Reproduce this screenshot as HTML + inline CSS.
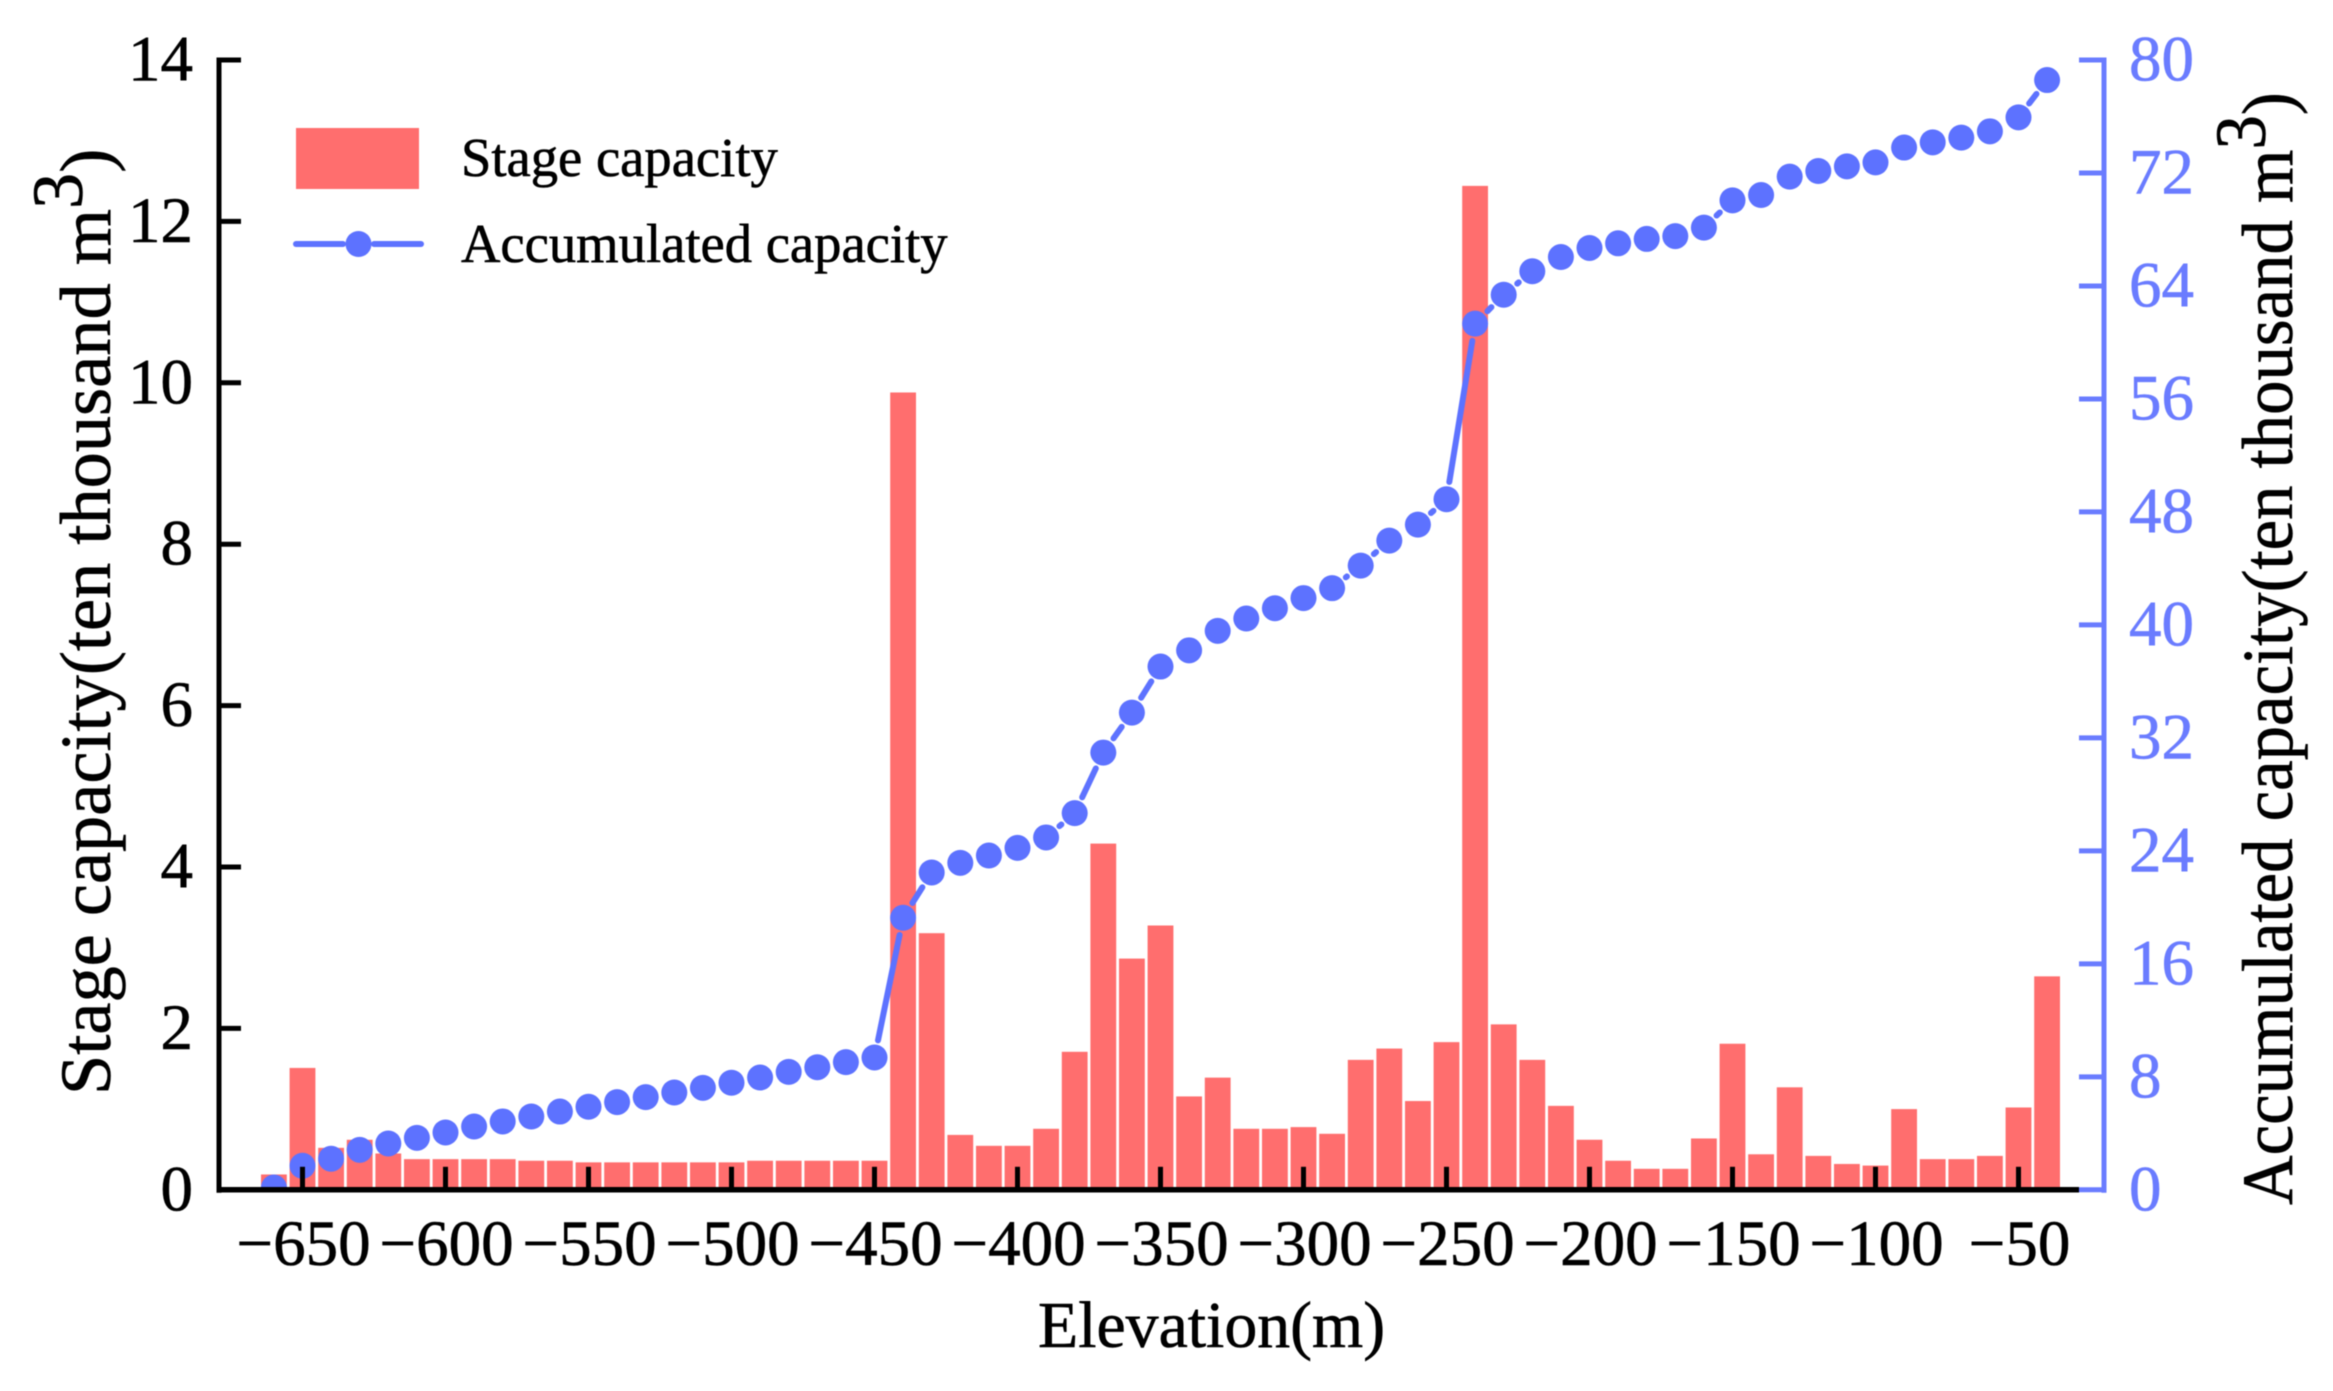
<!DOCTYPE html>
<html lang="en">
<head>
<meta charset="utf-8">
<title>Stage and accumulated capacity by elevation</title>
<style>
html,body{margin:0;padding:0;background:#fff;}
svg{display:block;font-family:"Liberation Serif",serif;filter:blur(0.6px);}
text{stroke:currentColor;stroke-width:0.6;}
</style>
</head>
<body>
<svg id="chart" xmlns="http://www.w3.org/2000/svg" width="2333" height="1391" viewBox="0 0 2333 1391">
  <defs>
    <clipPath id="plot-clip"><rect x="150" y="40" width="1960" height="1150"/></clipPath>
  </defs>
  <rect x="0" y="0" width="2333" height="1391" fill="#ffffff"/>
  <g id="bars"></g>
  <g id="line" clip-path="url(#plot-clip)"></g>
  <g id="axes"></g>

  <g color="#000">
    <rect x="296" y="128" width="123" height="61" fill="#ff6e6e"/>
    <text x="461" y="176" font-size="54.6" fill="#000">Stage capacity</text>
    <line x1="296" y1="244" x2="343" y2="244" stroke="#5d72ff" stroke-width="6" stroke-linecap="round"/>
    <line x1="374" y1="244" x2="421" y2="244" stroke="#5d72ff" stroke-width="6" stroke-linecap="round"/>
    <circle cx="358.5" cy="244" r="13" fill="#5d72ff"/>
    <text x="461" y="262" font-size="54.6" fill="#000">Accumulated capacity</text>
  </g>

  <text x="1038" y="1347" font-size="65.8" fill="#000" color="#000">Elevation(m)</text>
  <text transform="translate(110,1095) rotate(-90) scale(1.005,1)" font-size="72" fill="#000" color="#000">Stage capacity(ten thousand m<tspan dy="-28">3</tspan><tspan dy="28">)</tspan></text>
  <text transform="translate(2292,1205) rotate(-90) scale(0.955,1)" font-size="72" fill="#000" color="#000">Accumulated capacity(ten thousand m<tspan dy="-27">3</tspan><tspan dy="27">)</tspan></text>
</svg>
<script>
const elevations = [-660,-650,-640,-630,-620,-610,-600,-590,-580,-570,-560,-550,-540,-530,-520,-510,-500,-490,-480,-470,-460,-450,-440,-430,-420,-410,-400,-390,-380,-370,-360,-350,-340,-330,-320,-310,-300,-290,-280,-270,-260,-250,-240,-230,-220,-210,-200,-190,-180,-170,-160,-150,-140,-130,-120,-110,-100,-90,-80,-70,-60,-50,-40];
const stageCapacity = [0.19,1.51,0.52,0.62,0.45,0.38,0.38,0.38,0.38,0.36,0.36,0.34,0.34,0.34,0.34,0.34,0.34,0.36,0.36,0.36,0.36,0.36,9.88,3.18,0.68,0.545,0.545,0.756,1.71,4.29,2.865,3.275,1.157,1.39,0.756,0.756,0.777,0.694,1.61,1.75,1.10,1.83,12.44,2.05,1.61,1.04,0.62,0.36,0.26,0.26,0.636,1.81,0.44,1.27,0.42,0.32,0.30,1.0,0.38,0.38,0.42,1.02,2.645];
const accumulatedCapacity = [0.16,1.7,2.2,2.83,3.28,3.68,4.06,4.48,4.84,5.19,5.54,5.88,6.21,6.56,6.89,7.22,7.58,7.95,8.35,8.68,9.04,9.37,19.26,22.47,23.15,23.67,24.21,24.95,26.67,30.96,33.79,37.05,38.2,39.58,40.45,41.18,41.9,42.6,44.2,45.97,47.1,48.9,61.33,63.38,65.04,66.05,66.69,67.02,67.33,67.53,68.13,70.06,70.44,71.74,72.14,72.47,72.75,73.8,74.17,74.5,74.95,75.94,78.58];
const xTicks = [-650,-600,-550,-500,-450,-400,-350,-300,-250,-200,-150,-100,-50];
const leftTicks = [0,2,4,6,8,10,12,14];
const rightTicks = [0,8,16,24,32,40,48,56,64,72,80];

const SVG_NS = 'http://www.w3.org/2000/svg';
const X0 = 302.5, X_PER_M = 2.86;
const Y0 = 1189.8, Y_TOP = 60;
const LEFT_MAX = 14, RIGHT_MAX = 80;
const xScale = e => X0 + (e + 650) * X_PER_M;
const yLeft = v => Y0 - v / LEFT_MAX * (Y0 - Y_TOP);
const yRight = v => Y0 - v / RIGHT_MAX * (Y0 - Y_TOP);

function make(tag, attrs, parent) {
  const node = document.createElementNS(SVG_NS, tag);
  for (const k in attrs) node.setAttribute(k, attrs[k]);
  parent.appendChild(node);
  return node;
}

const barsG = document.getElementById('bars');
const lineG = document.getElementById('line');
const axesG = document.getElementById('axes');
const BAR_W = 25.8, BLUE = '#5d72ff', AXIS_BLUE = '#6a7cff';

elevations.forEach((e, i) => {
  const top = yLeft(stageCapacity[i]);
  const el = make('rect', {x: xScale(e) - BAR_W / 2, y: top, width: BAR_W, height: Y0 - top, fill: '#ff6e6e'}, barsG);
  
  
});

const GAP = 17.5;
for (let i = 0; i < elevations.length - 1; i++) {
  const x1 = xScale(elevations[i]), y1 = yRight(accumulatedCapacity[i]);
  const x2 = xScale(elevations[i + 1]), y2 = yRight(accumulatedCapacity[i + 1]);
  const d = Math.hypot(x2 - x1, y2 - y1);
  if (d <= GAP * 2 + 1) continue;
  const ux = (x2 - x1) / d, uy = (y2 - y1) / d;
  const el = make('line', {x1: x1 + ux * GAP, y1: y1 + uy * GAP, x2: x2 - ux * GAP, y2: y2 - uy * GAP, stroke: BLUE, 'stroke-width': 6, 'stroke-linecap': 'round'}, lineG);
  
  
}
elevations.forEach((e, i) => {
  const el = make('circle', {cx: xScale(e), cy: yRight(accumulatedCapacity[i]), r: 13, fill: BLUE}, lineG);
  
  
});

const leftAxis = make('line', {x1: 219, y1: Y_TOP - 2.5, x2: 219, y2: Y0 + 3, stroke: '#000', 'stroke-width': 5}, axesG);



const bottomAxis = make('line', {x1: 217, y1: Y0, x2: 2079, y2: Y0, stroke: '#000', 'stroke-width': 5.5}, axesG);



const rightAxis = make('line', {x1: 2104, y1: Y_TOP - 2.5, x2: 2104, y2: Y0 + 3, stroke: AXIS_BLUE, 'stroke-width': 5}, axesG);



leftTicks.forEach(v => {
  const y = yLeft(v);
  const tick = make('line', {x1: 219, y1: y, x2: 241, y2: y, stroke: '#000', 'stroke-width': 5}, axesG);
  
  
  const label = make('text', {x: 193, y: y + 20.5, 'font-size': 65, 'text-anchor': 'end', fill: '#000', color: '#000'}, axesG);
  
  
  label.textContent = String(v);
});

rightTicks.forEach(v => {
  const y = yRight(v);
  const tick = make('line', {x1: 2079, y1: y, x2: 2104, y2: y, stroke: AXIS_BLUE, 'stroke-width': 5}, axesG);
  
  
  const label = make('text', {x: 2129, y: y + 20.5, 'font-size': 65, fill: AXIS_BLUE, color: AXIS_BLUE}, axesG);
  
  
  label.textContent = String(v);
});

xTicks.forEach(v => {
  const x = xScale(v);
  const tick = make('line', {x1: x, y1: Y0, x2: x, y2: Y0 - 23, stroke: '#000', 'stroke-width': 5}, axesG);
  
  
  const label = make('text', {x: x + 1, y: 1265, 'font-size': 65, 'text-anchor': 'middle', fill: '#000', color: '#000'}, axesG);
  
  
  label.textContent = '\u2212' + Math.abs(v);
});
</script>
</body>
</html>
